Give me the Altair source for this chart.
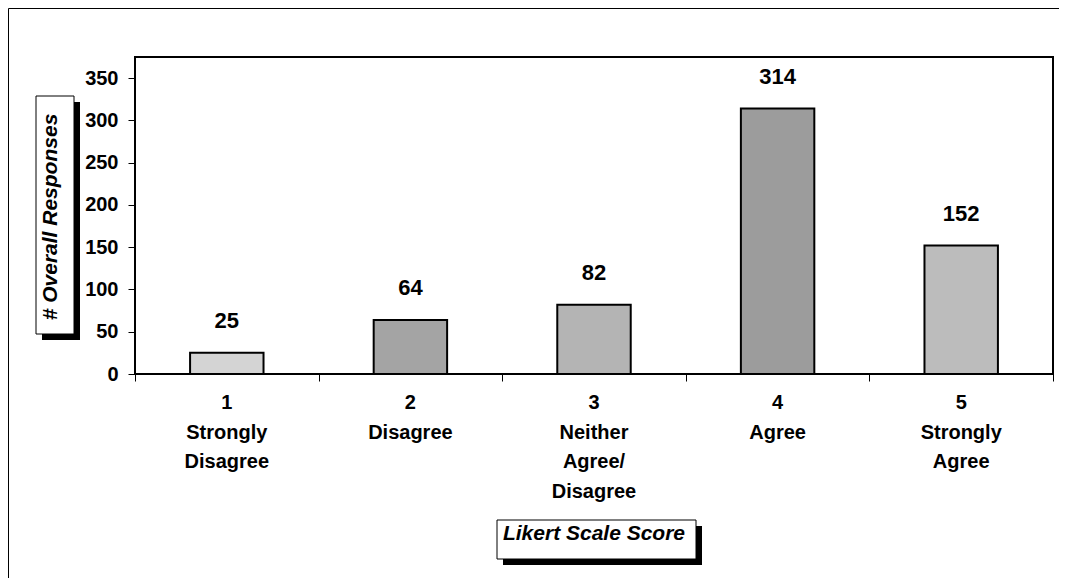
import altair as alt
import pandas as pd

# ---- data ----
scores = [1, 2, 3, 4, 5]
labels = ["1\nStrongly\nDisagree", "2\nDisagree", "3\nNeither\nAgree/\nDisagree",
          "4\nAgree", "5\nStrongly\nAgree"]
counts = [25, 64, 82, 314, 152]
y_ticks = [0, 50, 100, 150, 200, 250, 300, 350]
x_ticks = [0.5, 1.5, 2.5, 3.5, 4.5, 5.5]
x_title = "Likert Scale Score"
y_title = "# Overall Responses"

df = pd.DataFrame({"score": scores, "label": labels, "count": counts})

FONT = "Liberation Sans"
W, H = 918, 317

xscale = alt.Scale(domain=[0.5, 5.5], nice=False, zero=False)
yscale = alt.Scale(domain=[0, 375], nice=False)

base = alt.Chart(df)

bars = base.transform_calculate(
    x0="datum.score - 0.2", x1="datum.score + 0.2"
).mark_rect(stroke="black", strokeWidth=2).encode(
    x=alt.X("x0:Q", scale=xscale,
            axis=alt.Axis(values=x_ticks, labels=False, title=None, domain=False,
                          grid=False, ticks=True, tickColor="black", tickSize=7,
                          tickWidth=1)),
    x2="x1:Q",
    y=alt.Y("count:Q", scale=yscale,
            axis=alt.Axis(values=y_ticks, title=None, domain=False, grid=False,
                          tickColor="black", tickSize=7, tickWidth=1,
                          labelFont=FONT, labelFontSize=20, labelFontWeight="bold",
                          labelColor="black", labelPadding=10)),
    y2=alt.datum(0),
    color=alt.Color("score:O", legend=None,
                    scale=alt.Scale(range=["#d4d4d4", "#a4a4a4", "#b4b4b4",
                                           "#9c9c9c", "#bcbcbc"])),
)

values = base.mark_text(font=FONT, fontSize=22, fontWeight="bold", color="black",
                        baseline="middle", dy=-32).encode(
    x=alt.X("score:Q", scale=xscale),
    y=alt.Y("count:Q", scale=yscale),
    text="count:Q",
)

xlabels = base.mark_text(font=FONT, fontSize=20, fontWeight="bold", color="black",
                         baseline="top", lineBreak="\n", lineHeight=29.5).encode(
    x=alt.X("score:Q", scale=xscale),
    y=alt.value(336),
    text="label:N",
)

one = alt.Chart(pd.DataFrame({"d": [0]}))

frame_left = one.mark_rule(color="black", strokeWidth=1).encode(
    x=alt.value(-126.5), y=alt.value(-48.5), y2=alt.value(530))
frame_top = one.mark_rule(color="black", strokeWidth=1).encode(
    x=alt.value(-126.5), x2=alt.value(930), y=alt.value(-48.5))

# y title box
ybox_shadow = one.mark_rect(color="black").encode(
    x=alt.value(-93), x2=alt.value(-55), y=alt.value(45), y2=alt.value(283))
ybox = one.mark_rect(fill="white", stroke="black", strokeWidth=1).encode(
    x=alt.value(-99), x2=alt.value(-61), y=alt.value(39), y2=alt.value(277))
ytext = one.mark_text(font=FONT, fontSize=21, fontWeight="bold", fontStyle="italic",
                      color="black", angle=270, align="center",
                      baseline="alphabetic").encode(
    x=alt.value(-78), y=alt.value(160), text=alt.value(y_title))

# x title box
xbox_shadow = one.mark_rect(color="black").encode(
    x=alt.value(368), x2=alt.value(567), y=alt.value(469), y2=alt.value(508))
xbox = one.mark_rect(fill="white", stroke="black", strokeWidth=1).encode(
    x=alt.value(362), x2=alt.value(561), y=alt.value(463), y2=alt.value(502))
xtext = one.mark_text(font=FONT, fontSize=21, fontWeight="bold", fontStyle="italic",
                      color="black", align="center", baseline="alphabetic").encode(
    x=alt.value(459), y=alt.value(483), text=alt.value(x_title))

chart = alt.layer(
    frame_left, frame_top, bars, values, xlabels,
    ybox_shadow, ybox, ytext, xbox_shadow, xbox, xtext
).properties(
    width=W, height=H,
    padding={"left": 127, "top": 49, "right": 6, "bottom": 204},
    autosize=alt.AutoSizeParams(type="none"),
    background="white",
).configure_view(stroke="black", strokeWidth=2)

chart.save("out.html", embed_options={"renderer": "svg", "actions": False})
